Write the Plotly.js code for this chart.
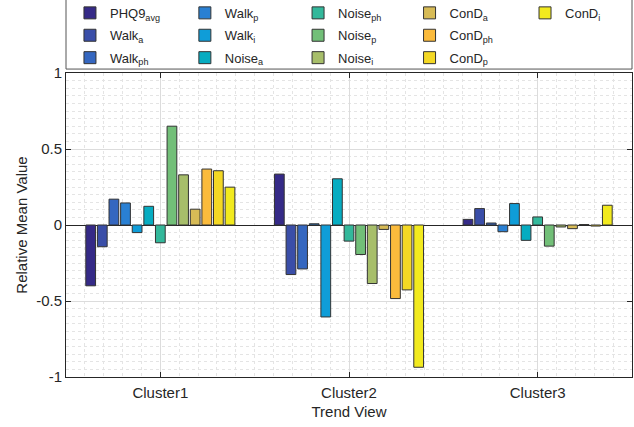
<!DOCTYPE html>
<html>
<head>
<meta charset="utf-8">
<script src="https://cdn.plot.ly/plotly-3.0.1.min.js"></script>
<style>html,body{margin:0;padding:0;background:#fff}#chart{width:634px;height:427px}</style>
</head>
<body>
<div id="chart"></div>
<script>
// Data
const clusters = ["Cluster1", "Cluster2", "Cluster3"];
const clusterPos = [1, 2, 3];
const seriesNames = [
  "PHQ9<sub>avg</sub>", "Walk<sub>a</sub>", "Walk<sub>ph</sub>", "Walk<sub>p</sub>", "Walk<sub>i</sub>",
  "Noise<sub>a</sub>", "Noise<sub>ph</sub>", "Noise<sub>p</sub>", "Noise<sub>i</sub>",
  "ConD<sub>a</sub>", "ConD<sub>ph</sub>", "ConD<sub>p</sub>", "ConD<sub>i</sub>"
];
const PHQ9avg = [-0.40, 0.335, 0.037];
const Walk_a  = [-0.143, -0.326, 0.108];
const Walk_ph = [0.17, -0.289, 0.013];
const Walk_p  = [0.145, 0.008, -0.044];
const Walk_i  = [-0.05, -0.605, 0.141];
const Noise_a = [0.123, 0.304, -0.101];
const Noise_ph = [-0.117, -0.106, 0.053];
const Noise_p = [0.65, -0.194, -0.139];
const Noise_i = [0.33, -0.385, -0.013];
const ConD_a  = [0.104, -0.029, -0.024];
const ConD_ph = [0.368, -0.484, 0.003];
const ConD_p  = [0.357, -0.427, -0.007];
const ConD_i  = [0.249, -0.936, 0.13];
const seriesValues = [PHQ9avg, Walk_a, Walk_ph, Walk_p, Walk_i, Noise_a, Noise_ph, Noise_p, Noise_i, ConD_a, ConD_ph, ConD_p, ConD_i];

// Styles
const colors = ["#352a87", "#3a4ea8", "#3567c0", "#2a80d3", "#0f9dd8", "#06acc1", "#33b89b",
  "#72bf78", "#a7be6a", "#d7bb56", "#fbbb3c", "#f4d824", "#f2ea1e"];
const legendIds = ["legend","legend","legend","legend2","legend2","legend2","legend3","legend3","legend3","legend4","legend4","legend4","legend5"];

const FAM = "'Liberation Sans', Arial, Helvetica, sans-serif";

const traces = seriesNames.map((n, i) => ({
  type: "bar",
  name: n,
  x: clusterPos,
  y: seriesValues[i],
  legend: legendIds[i],
  legendgroup: "g" + i,
  marker: {color: colors[i], line: {color: "#333333", width: 1}},
  hoverinfo: "x+y+name"
}));

function leg(x) {
  return {x: x, xref: "paper", y: 1.247, yref: "paper", xanchor: "left", yanchor: "top",
    orientation: "v", bgcolor: "rgba(0,0,0,0)", borderwidth: 0,
    font: {family: FAM, size: 13, color: "#262626"}, tracegroupgap: 2.5, itemwidth: 30};
}

const layout = {
  width: 634, height: 427,
  margin: {l: 66, r: 2, t: 73, b: 50, autoexpand: false},
  paper_bgcolor: "#fff", plot_bgcolor: "#fff",
  barmode: "group", bargap: 0.2, bargroupgap: 0.16,
  font: {family: FAM, size: 15, color: "#262626"},
  xaxis: {
    range: [0.5, 3.5], tickmode: "array", tickvals: clusterPos, ticktext: clusters,
    showgrid: true, gridcolor: "#dcdcdc", gridwidth: 1,
    minor: {dtick: 0.1, tick0: 0.5, showgrid: true, gridcolor: "#e4e4e4", griddash: "dot", gridwidth: 1, ticks: ""},
    ticks: "inside", ticklen: 5, tickcolor: "#262626",
    showline: true, linecolor: "#262626", linewidth: 1, mirror: "ticks",
    zeroline: false, automargin: false, ticklabelstandoff: 2,
    tickfont: {family: FAM, size: 15, color: "#262626"},
    title: {text: "Trend View", font: {family: FAM, size: 15, color: "#262626"}, standoff: 6}
  },
  yaxis: {
    range: [-1, 1], tickmode: "array", tickvals: [-1, -0.5, 0, 0.5, 1], ticktext: ["-1", "-0.5", "0", "0.5", "1"],
    showgrid: true, gridcolor: "#dcdcdc", gridwidth: 1,
    minor: {dtick: 0.05, tick0: 0, showgrid: true, gridcolor: "#e4e4e4", griddash: "dot", gridwidth: 1, ticks: ""},
    ticks: "inside", ticklen: 5, tickcolor: "#262626",
    showline: true, linecolor: "#262626", linewidth: 1, mirror: "ticks",
    zeroline: true, zerolinecolor: "#262626", zerolinewidth: 1, automargin: false,
    tickfont: {family: FAM, size: 15, color: "#262626"},
    title: {text: "Relative Mean Value", font: {family: FAM, size: 15, color: "#262626"}, standoff: 4}
  },
  legend: leg(0.007), legend2: leg(0.21), legend3: leg(0.41), legend4: leg(0.607), legend5: leg(0.811),
  shapes: [{type: "rect", xref: "paper", yref: "paper", x0: 0, x1: 1, y0: 1.013, y1: 1.5,
    line: {color: "#555", width: 1}, fillcolor: "rgba(0,0,0,0)", layer: "below"}],
  showlegend: true
};

Plotly.newPlot("chart", traces, layout, {displayModeBar: false, staticPlot: true});
</script>
</body>
</html>
